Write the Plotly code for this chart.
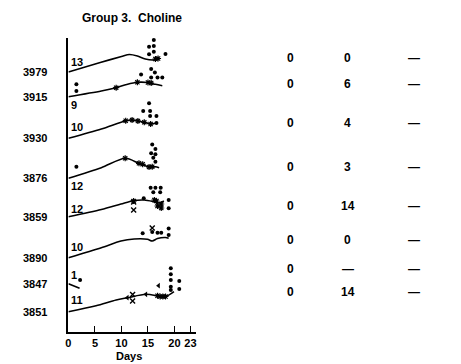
import plotly.graph_objects as go

# ---------------- data ----------------
animal_ids = ["3979", "3915", "3930", "3876", "3859", "3890", "3847", "3851"]
counts = ["13", "9", "10", "12", "12", "10", "1", "11"]
col_a = ["0", "0", "0", "0", "0", "0", "0", "0"]
col_b = ["0", "6", "4", "3", "14", "0", "—", "14"]
col_c = ["—", "—", "—", "—", "—", "—", "—", "—"]
table_levels = [273.7, 247.7, 208.7, 165.3, 126.3, 92, 62.7, 39.7]

x_ticks = [0, 5, 10, 15, 20, 23]

curve_days = [
    [0, 6, 10, 11.5, 13, 14.5, 16, 17],
    [0, 6.2, 9, 11, 13, 14.9, 16.4, 17.7],
    [0, 6.2, 10.8, 12, 14.3, 15.5, 16.4],
    [0, 6.2, 10.7, 13.3, 15.2, 16.4, 17.1],
    [0, 6.2, 9.9, 12.2, 14.3, 16.1, 17.1, 18],
    [0, 6.2, 9.9, 12.4, 14.9, 15.8, 16.8, 18.3, 18.9],
    [0, 2.1],
    [0, 5.2, 9, 11.2, 14.6, 17.1, 18.3, 19.9],
]
curve_vals = [
    [260, 269.5, 275.5, 277.5, 276, 273, 272, 273],
    [235.3, 241, 244.3, 247.5, 249.7, 249.5, 247.7, 246.3],
    [193.7, 203, 211.3, 212, 209.7, 208, 208.7],
    [153.7, 164.3, 173.7, 168.7, 165, 165.3, 164.3],
    [115.3, 122.5, 128, 131.3, 132, 130.3, 129, 131],
    [74.3, 84.3, 91, 93, 92.7, 91, 93.5, 94.5, 93.7],
    [48.3, 43.7],
    [20.3, 26.3, 32, 34.3, 37.7, 36, 35.3, 40.3],
]

dot_days = [
    [16.1, 16.1, 15.2, 16.1, 15.2, 16.1, 18.3],
    [1.5, 1.5, 13.7, 15.6, 16.3, 15.6, 16.8, 17.7],
    [15.2, 14.1, 15.4, 16.6, 15.4, 16.6],
    [1.5, 15.8, 16.4, 15.6, 16.4, 16, 16.4],
    [15.5, 16.4, 17.4, 16, 17.3, 18.9, 18.9, 14.2],
    [14, 15.8, 16.8, 17.5, 18.9, 18.9],
    [2.2],
    [19.3, 19.3, 19.3, 19.3, 19.3, 20.9, 20.9],
]
dot_vals = [
    [298.7, 292, 285.3, 286, 277.7, 280.3, 278],
    [247.7, 241, 257.5, 263, 259.5, 254.5, 254.5, 254.5],
    [228.7, 221, 221, 216, 216, 209],
    [165.3, 187.5, 183, 178.7, 177.7, 174.3, 170.3],
    [144.3, 144.3, 144.3, 139.7, 139.7, 132, 123.7, 133.7],
    [98.7, 100, 99.3, 99.3, 103.5, 97],
    [52],
    [63.7, 57.7, 52, 45.3, 42, 51, 43],
]

star_days = [
    [16.4, 16.9],
    [9, 13, 15, 15.6],
    [10.8, 12, 13.1, 14.3, 15.5],
    [10.7, 13.3, 14, 15.2, 15.8],
    [12.3, 16.6, 17.5, 16.8, 17.5, 16.2],
    [],
    [],
    [16.8, 17.3, 17.8, 18.3],
]
star_vals = [
    [273, 273.5],
    [244.3, 249.7, 249.5, 249],
    [211.3, 212, 211, 209.7, 208],
    [173.7, 168.7, 167.7, 165, 165.2],
    [131, 131, 128, 126, 124, 132],
    [],
    [],
    [36.3, 35.5, 35.5, 35.5],
]

cross_days = [[], [], [], [], [12.3, 12.3], [15.8], [], [12.1, 12.1]]
cross_vals = [[], [], [], [], [130, 122], [104], [], [37.5, 31]]

arrow_days = [[], [], [], [], [], [], [-1], [11.1, 14.6, 17.0]]
arrow_vals = [[], [], [], [], [], [], [57.7], [34.3, 37.7, 46.3]]

# label offsets (layout only)
count_offsets = [10, -8, 11.6, -7.7, 7.4, 11, 8.7, 11.7]

# ---------------- figure ----------------
W, H = 461, 364
FONT = "Liberation Sans"
x0_px, px_per_day = 66, 5.35
x_range = [0, 24]
axis_bottom_px, axis_top_px = 332, 38

fig = go.Figure()

for i in range(len(animal_ids)):
    fig.add_trace(go.Scatter(
        x=curve_days[i], y=curve_vals[i], mode="lines",
        line=dict(color="black", width=1.6, shape="spline", smoothing=0.8),
        hoverinfo="skip", showlegend=False, cliponaxis=False))
    fig.add_trace(go.Scatter(
        x=dot_days[i], y=dot_vals[i], mode="markers",
        marker=dict(symbol="circle", size=4, color="black"),
        showlegend=False, cliponaxis=False))
    fig.add_trace(go.Scatter(
        x=star_days[i], y=star_vals[i], mode="markers",
        marker=dict(symbol="asterisk-open", size=5, color="black",
                    line=dict(color="black", width=1.2)),
        showlegend=False, cliponaxis=False))
    fig.add_trace(go.Scatter(
        x=cross_days[i], y=cross_vals[i], mode="markers",
        marker=dict(symbol="x-thin-open", size=5, color="black",
                    line=dict(color="black", width=1.4)),
        showlegend=False, cliponaxis=False))
    fig.add_trace(go.Scatter(
        x=arrow_days[i], y=arrow_vals[i], mode="markers",
        marker=dict(symbol="triangle-left", size=5, color="black"),
        showlegend=False, cliponaxis=False))

annotations = []
bold = dict(family=FONT, size=11, color="black", weight="bold")

for i, aid in enumerate(animal_ids):
    base = curve_vals[i][0]
    annotations.append(dict(x=46 / W, xref="paper", y=base, yref="y",
                            text=aid, showarrow=False, xanchor="right",
                            yanchor="middle", font=bold))
    annotations.append(dict(x=0.15, xref="x", y=base + count_offsets[i], yref="y",
                            text=counts[i], showarrow=False, xanchor="left",
                            yanchor="middle", font=bold))
    lv = table_levels[i]
    for txt, xp in ((col_a[i], 290), (col_b[i], 348), (col_c[i], 415)):
        annotations.append(dict(x=xp / W, xref="paper", y=lv, yref="y",
                                text=txt, showarrow=False, xanchor="center",
                                yanchor="middle", font=dict(family=FONT, size=12,
                                                            color="black", weight="bold")))

annotations.append(dict(x=130 / W, xref="paper", y=1 - 18 / H, yref="paper",
                        text="Group 3.  Choline", showarrow=False, xanchor="center",
                        yanchor="middle", font=dict(family=FONT, size=12, color="black",
                                                    weight="bold")))
annotations.append(dict(x=127 / W, xref="paper", y=1 - 356 / H, yref="paper",
                        text="Days", showarrow=False, xanchor="center",
                        yanchor="middle", font=bold))

x_end_px = x0_px + px_per_day * (x_range[1] - x_range[0])

fig.update_layout(
    width=W, height=H,
    margin=dict(l=0, r=0, t=0, b=0),
    paper_bgcolor="white", plot_bgcolor="white",
    showlegend=False,
    annotations=annotations,
    xaxis=dict(domain=[x0_px / W, x_end_px / W], range=x_range,
               tickvals=x_ticks, ticktext=[str(t) for t in x_ticks],
               ticks="inside", ticklen=6, tickwidth=1.3, tickcolor="black",
               showline=True, linecolor="black", linewidth=1.6,
               showgrid=False, zeroline=False,
               tickfont=bold),
    yaxis=dict(domain=[(H - axis_bottom_px) / H, (H - axis_top_px) / H],
               range=[0, axis_bottom_px - axis_top_px],
               showline=True, linecolor="black", linewidth=1.6,
               showgrid=False, zeroline=False, showticklabels=False, ticks=""),
)

fig.write_html("out.html")
